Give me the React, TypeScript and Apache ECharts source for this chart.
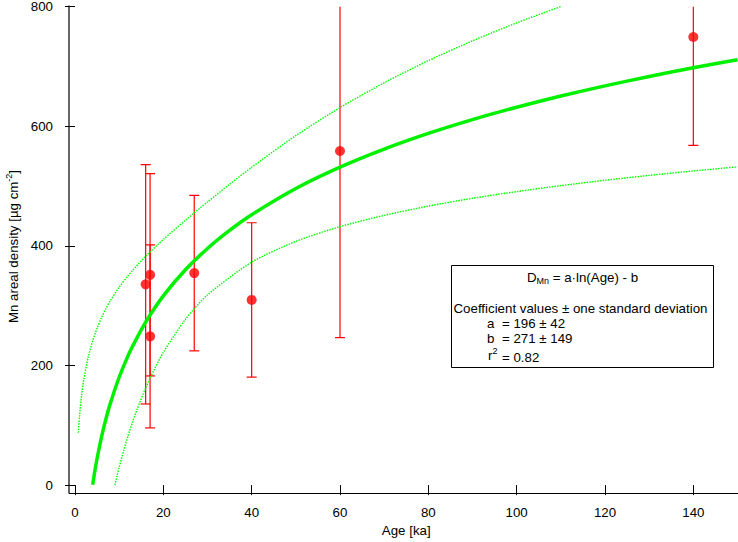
import React, { useEffect, useRef } from "react";
import * as echarts from "echarts";

// Measured samples (age in ka, Mn areal density in µg cm^-2)
const sampleAge = [16, 17, 17, 27, 40, 60, 140];
const sampleDensity = [335.6, 351.5, 248.6, 354.4, 309.5, 558.5, 749];
const sampleError = [200, 169, 153, 130, 129, 312, 181];

// Fitted curve D = a·ln(Age) - b
const fitAge = [4, 4.5, 5, 6, 7, 8, 10, 12, 13, 16, 20, 25, 30, 35, 40, 50, 60, 70, 80, 90, 100, 110, 120, 130, 140, 150];
const fitDensity = [0.7, 23.8, 44.4, 80.2, 110.4, 136.6, 180.3, 216.0, 231.7, 272.4, 316.2, 359.9, 395.6, 425.8, 452.0, 495.8, 531.5, 561.7, 587.9, 611.0, 631.6, 650.3, 667.3, 683.0, 697.6, 711.1];

// Upper and lower confidence bands (dotted)
const upperAge = [0.75, 1, 1.5, 2, 3, 4, 5, 6, 7, 8, 10, 12, 13, 16, 20, 25, 30, 35, 40, 50, 60, 70, 80, 90, 100, 110];
const upperDensity = [87.5, 113.6, 150.5, 176.8, 214.2, 241.1, 262.3, 279.8, 294.9, 308.1, 330.8, 350.0, 358.7, 382.5, 410.6, 442.7, 473.3, 502.8, 531.3, 584.2, 631.0, 672.5, 709.5, 742.6, 772.6, 800.0];
const lowerAge = [9.05, 9.5, 10, 11, 12, 13, 14, 16, 18, 20, 25, 30, 40, 50, 60, 70, 80, 90, 100, 110, 120, 130, 140, 150];
const lowerDensity = [0, 15.1, 29.8, 57.3, 82.0, 104.7, 125.5, 162.3, 194.1, 221.8, 277.1, 317.9, 372.7, 407.4, 432.0, 450.9, 466.3, 479.4, 490.6, 500.6, 509.5, 517.7, 525.2, 532.0];

// Axis ticks
const xTicks = [0, 20, 40, 60, 80, 100, 120, 140];
const yTicks = [0, 200, 400, 600, 800];

const FONT = '"Liberation Sans", Arial, sans-serif';
const FS = 13.3;

export default function App() {
  const ref = useRef<HTMLDivElement>(null);

  useEffect(() => {
    if (!ref.current) return;
    const chart = echarts.init(ref.current, null, { renderer: "svg" });

    const zip = (a: number[], b: number[]) => a.map((v, i) => [v, b[i]]);
    const txt = (x: number, y: number, text: string, align = "left") => ({
      type: "text",
      x,
      y,
      z: 21,
      style: { text, align, verticalAlign: "middle", fill: "#000", fontSize: FS, fontFamily: FONT },
    });

    const option: any = {
      animation: false,
      backgroundColor: "#ffffff",
      grid: { left: 75, right: 0.5, top: 5.5, bottom: 54.5, containLabel: false },
      xAxis: {
        type: "value",
        min: 0,
        max: 150,
        interval: 20,
        offset: 6,
        axisLine: { show: false },
        splitLine: { show: false },
        axisTick: { show: true, length: 10, lineStyle: { color: "#000", width: 1 }, customValues: xTicks },
        axisLabel: { color: "#000", fontSize: FS, fontFamily: FONT, margin: 15, customValues: xTicks },
        name: "Age [ka]",
        nameLocation: "middle",
        nameGap: 30,
        nameTextStyle: { color: "#000", fontSize: FS, fontFamily: FONT },
      },
      yAxis: {
        type: "value",
        min: 0,
        max: 800,
        interval: 200,
        offset: 6,
        axisLine: { show: false },
        splitLine: { show: false },
        axisTick: { show: true, length: 10, lineStyle: { color: "#000", width: 1 }, customValues: yTicks },
        axisLabel: { color: "#000", fontSize: FS, fontFamily: FONT, margin: 16, customValues: yTicks },
      },
      graphic: [
        {
          type: "line",
          shape: { x1: 69, y1: 5.5, x2: 69, y2: 493.5 },
          style: { stroke: "#000", lineWidth: 1.2 },
          z: 10,
        },
        {
          type: "line",
          shape: { x1: 69, y1: 493.5, x2: 738, y2: 493.5 },
          style: { stroke: "#000", lineWidth: 1.2 },
          z: 10,
        },
        {
          type: "text",
          x: 13,
          y: 246.5,
          rotation: Math.PI / 2,
          style: {
            text: "{n|Mn areal density [µg cm}{s|-2}{n|]}",
            align: "center",
            verticalAlign: "middle",
            fill: "#000",
            rich: {
              n: { fontSize: FS, lineHeight: 17, fontFamily: FONT, fill: "#000" },
              s: { fontSize: 9, lineHeight: 9, verticalAlign: "top", fontFamily: FONT, fill: "#000" },
            },
          },
        },
        {
          type: "rect",
          shape: { x: 451.5, y: 265.5, width: 262, height: 102 },
          style: { fill: "#ffffff", stroke: "#000", lineWidth: 1 },
          z: 20,
        },
        {
          type: "text",
          x: 582.5,
          y: 277,
          z: 21,
          style: {
            text: "{n|D}{b|Mn}{n| = a·ln(Age) - b}",
            align: "center",
            verticalAlign: "middle",
            fill: "#000",
            rich: {
              n: { fontSize: FS, lineHeight: 16, fontFamily: FONT, fill: "#000" },
              b: { fontSize: 9, lineHeight: 9, verticalAlign: "bottom", fontFamily: FONT, fill: "#000" },
            },
          },
        },
        txt(453.5, 308, "Coefficient values ± one standard deviation"),
        txt(487, 323, "a"),
        txt(502, 323, "= 196 ± 42"),
        txt(487, 338, "b"),
        txt(502, 338, "= 271 ± 149"),
        {
          type: "text",
          x: 488,
          y: 355,
          z: 21,
          style: {
            text: "{n|r}{s|2}",
            align: "left",
            verticalAlign: "middle",
            fill: "#000",
            rich: {
              n: { fontSize: FS, lineHeight: 18, fontFamily: FONT, fill: "#000" },
              s: { fontSize: 9, lineHeight: 9, verticalAlign: "top", fontFamily: FONT, fill: "#000" },
            },
          },
        },
        txt(502, 357, "= 0.82"),
      ],
      series: [
        {
          type: "line",
          data: zip(upperAge, upperDensity),
          showSymbol: false,
          smooth: 0.25,
          lineStyle: { color: "#00ff00", width: 1.4, type: [1.5, 1.2] },
          silent: true,
        },
        {
          type: "line",
          data: zip(lowerAge, lowerDensity),
          showSymbol: false,
          smooth: 0.25,
          lineStyle: { color: "#00ff00", width: 1.4, type: [1.5, 1.2] },
          silent: true,
        },
        {
          type: "line",
          data: zip(fitAge, fitDensity),
          showSymbol: false,
          smooth: 0.25,
          lineStyle: { color: "#00f000", width: 3.5 },
          silent: true,
        },
        {
          type: "custom",
          clip: true,
          data: sampleAge.map((a, i) => [a, sampleDensity[i], sampleError[i]]),
          renderItem: (params: any, api: any) => {
            const x = api.value(0);
            const y = api.value(1);
            const e = api.value(2);
            const top = api.coord([x, y + e]);
            const bot = api.coord([x, y - e]);
            const cs = params.coordSys;
            const topY = Math.max(top[1], cs.y);
            const botY = Math.min(bot[1], cs.y + cs.height);
            const style = { stroke: "#ff0000", lineWidth: 1.2 };
            const children: any[] = [
              { type: "line", shape: { x1: top[0], y1: topY, x2: top[0], y2: botY }, style },
            ];
            if (top[1] >= cs.y) {
              children.push({ type: "line", shape: { x1: top[0] - 5, y1: top[1], x2: top[0] + 5, y2: top[1] }, style });
            }
            if (bot[1] <= cs.y + cs.height) {
              children.push({ type: "line", shape: { x1: bot[0] - 5, y1: bot[1], x2: bot[0] + 5, y2: bot[1] }, style });
            }
            return { type: "group", children };
          },
        },
        {
          type: "scatter",
          data: zip(sampleAge, sampleDensity),
          symbol: "circle",
          symbolSize: 10,
          itemStyle: { color: "#ff0000" },
        },
      ],
    };

    chart.setOption(option);
    return () => chart.dispose();
  }, []);

  return (
    <div
      ref={ref}
      style={{ position: "fixed", left: 0, top: 0, width: 738, height: 542, background: "#fff" }}
    />
  );
}
